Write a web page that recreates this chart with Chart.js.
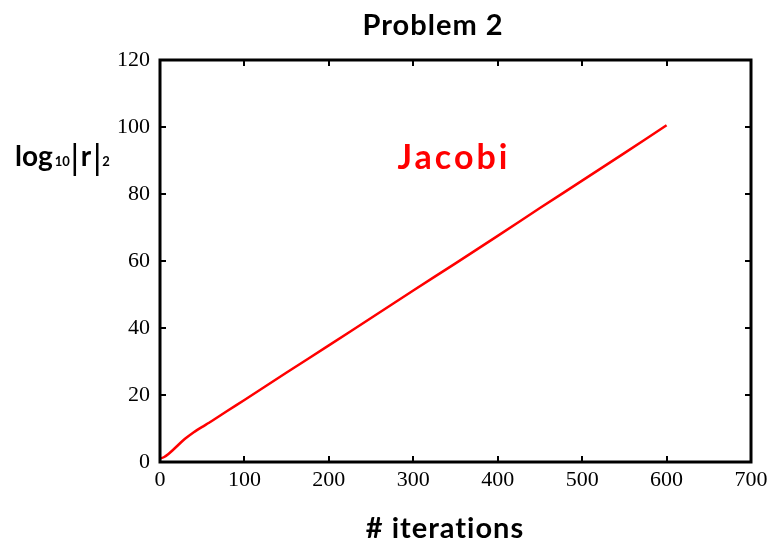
<!DOCTYPE html>
<html>
<head>
<meta charset="utf-8">
<script src="https://cdn.jsdelivr.net/npm/chart.js@4/dist/chart.umd.min.js"></script>
<style>
  html, body { margin: 0; padding: 0; background: #fff; }
  #wrap { width: 780px; height: 544px; }
</style>
</head>
<body>
<div id="wrap"><canvas id="c" width="780" height="544"></canvas></div>
<script>
// Residual history of the Jacobi iteration
const iterations = [0, 5, 10, 15, 20, 25, 30, 40, 50, 60, 80, 100, 150, 200, 250, 300, 350, 400, 450, 500, 550, 600];
const logResidual = [1.0, 1.5, 2.4, 3.5, 4.7, 5.9, 7.0, 8.9, 10.5, 12.0, 15.3, 18.5, 26.7, 34.8, 43.0, 51.2, 59.3, 67.5, 75.8, 84.0, 92.2, 100.5];
const xTicks = [0, 100, 200, 300, 400, 500, 600, 700];
const yTicks = [0, 20, 40, 60, 80, 100, 120];

const points = iterations.map((x, i) => ({ x: x, y: logResidual[i] }));

const HEAD = 'Lato, "Open Sans", sans-serif';
const TICKFONT = '"Liberation Serif", "Times New Roman", serif';

// Box frame with inward ticks on all four sides, plus titles and annotation
const framePlugin = {
  id: 'frame',
  afterDraw(chart) {
    const { ctx, chartArea: a, scales } = chart;
    const xs = scales.x, ys = scales.y;
    ctx.save();
    ctx.strokeStyle = '#000';
    ctx.lineWidth = 3;
    ctx.strokeRect(a.left, a.top, a.right - a.left, a.bottom - a.top);
    ctx.lineWidth = 2;
    const tl = 6;
    xTicks.forEach(v => {
      const px = Math.round(xs.getPixelForValue(v));
      ctx.beginPath();
      ctx.moveTo(px, a.bottom); ctx.lineTo(px, a.bottom - tl);
      ctx.moveTo(px, a.top); ctx.lineTo(px, a.top + tl);
      ctx.stroke();
    });
    yTicks.forEach(v => {
      const py = Math.round(ys.getPixelForValue(v));
      ctx.beginPath();
      ctx.moveTo(a.left, py); ctx.lineTo(a.left + tl, py);
      ctx.moveTo(a.right, py); ctx.lineTo(a.right - tl, py);
      ctx.stroke();
    });

    ctx.fillStyle = '#000';
    ctx.textAlign = 'center';
    ctx.textBaseline = 'alphabetic';
    ctx.font = 'bold 29px ' + HEAD;
    ctx.letterSpacing = '1px';
    ctx.fillText('Problem 2', 433, 35);
    ctx.fillText('# iterations', 445, 538);

    // y-axis label: log10|r|2 with subscripts
    ctx.textAlign = 'left';
    ctx.letterSpacing = '0px';
    let x = 15;
    const base = 166;
    const big = 'bold 28px ' + HEAD;
    const small = 'bold 13px ' + HEAD;
    ctx.font = big; ctx.fillText('log', x, base); x += ctx.measureText('log').width + 2;
    ctx.font = small; ctx.fillText('10', x, base); x += ctx.measureText('10').width + 4;
    ctx.lineWidth = 2.5;
    ctx.beginPath(); ctx.moveTo(x + 1, 143); ctx.lineTo(x + 1, 176); ctx.stroke();
    x += 7;
    ctx.font = big; ctx.fillText('r', x, base); x += ctx.measureText('r').width + 5;
    ctx.beginPath(); ctx.moveTo(x + 1, 143); ctx.lineTo(x + 1, 176); ctx.stroke();
    x += 6;
    ctx.font = small; ctx.fillText('2', x, base);

    ctx.fillStyle = '#ff0000';
    ctx.textAlign = 'center';
    ctx.font = 'bold 34px ' + HEAD;
    ctx.letterSpacing = '3px';
    ctx.fillText('Jacobi', 454, 169);
    ctx.restore();
  }
};

new Chart(document.getElementById('c'), {
  type: 'scatter',
  data: {
    datasets: [{
      data: points,
      showLine: true,
      borderColor: '#ff0000',
      borderWidth: 2.5,
      pointRadius: 0,
      tension: 0.1,
      fill: false
    }]
  },
  options: {
    responsive: false,
    animation: false,
    devicePixelRatio: 1,
    layout: { padding: { left: 96, top: 60, right: 29, bottom: 0 } },
    plugins: { legend: { display: false }, tooltip: { enabled: false }, title: { display: false } },
    scales: {
      x: {
        type: 'linear', min: 0, max: 700,
        afterBuildTicks(s) { s.ticks = xTicks.map(v => ({ value: v })); },
        afterFit(s) { s.height = 82; },
        grid: { display: false, drawTicks: false },
        border: { display: false },
        ticks: { color: '#000', font: { family: TICKFONT, size: 22 }, padding: 5, maxRotation: 0, autoSkip: false }
      },
      y: {
        type: 'linear', min: 0, max: 120,
        afterBuildTicks(s) { s.ticks = yTicks.map(v => ({ value: v })); },
        afterFit(s) { s.width = 64; },
        grid: { display: false, drawTicks: false },
        border: { display: false },
        ticks: { color: '#000', font: { family: TICKFONT, size: 22 }, padding: 10, autoSkip: false }
      }
    }
  },
  plugins: [framePlugin]
});
</script>
</body>
</html>
